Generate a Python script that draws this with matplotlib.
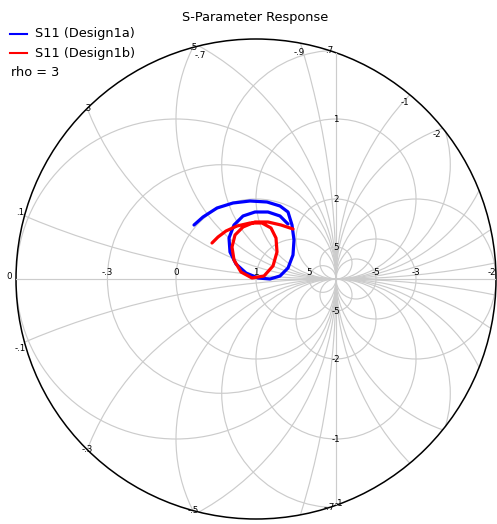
import numpy as np
import matplotlib
matplotlib.use("Agg")
import matplotlib.pyplot as plt
from matplotlib.patches import Circle

# ---------------- data ----------------
title = "S-Parameter Response"
series_names = ["S11 (Design1a)", "S11 (Design1b)"]
series_colors = ["#0000ff", "#ff0000"]
rho = 3

# grid values (normalized resistance / reactance)
r_values = [0, 1, 5, -0.3, -0.5, -0.7, -0.9, -1, -1.3, -1.5, -2, -3, -5]
r_labels = ["0", "1", "5", "-.3", "", "-.7", "-.9", "-1", "-1", "-2", "-2", "-3", "-5"]
x_values = [0.1, 0.3, 0.5, 0.7, 1, 2, 5, -0.1, -0.3, -0.5, -0.7, -1, -2, -5]
x_labels = [".1", ".3", ".5", ".7", "1", "2", "5", "-.1", "-.3", "-.5", "-.7", "-1", "-2", "-5"]

# S11 traces (real / imaginary part of reflection coefficient)
s11a_re = [-0.775, -0.6625, -0.4875, -0.2875, -0.075, 0.1375, 0.30, 0.40, 0.45, 0.475,
           0.4625, 0.40, 0.30, 0.175, 0.025, -0.125, -0.25, -0.325, -0.3375, -0.275,
           -0.1625, -0.0125, 0.15, 0.30, 0.40]
s11a_im = [0.675, 0.775, 0.8875, 0.95, 0.975, 0.9625, 0.9125, 0.8375, 0.675, 0.4875,
           0.30, 0.1375, 0.0375, 0.0, 0.0125, 0.075, 0.1875, 0.3375, 0.5125, 0.675,
           0.7875, 0.8375, 0.8375, 0.7875, 0.6875]
s11b_re = [-0.55, -0.475, -0.375, -0.2375, -0.075, 0.075, 0.1875, 0.25, 0.2625, 0.2125,
           0.10, -0.05, -0.1875, -0.275, -0.30, -0.2625, -0.1625, -0.0125, 0.15, 0.3125,
           0.4625]
s11b_im = [0.45, 0.525, 0.60, 0.6625, 0.70, 0.70, 0.6375, 0.5125, 0.3375, 0.1625,
           0.0375, 0.0125, 0.0875, 0.2375, 0.40, 0.55, 0.65, 0.7125, 0.7125, 0.675,
           0.625]

# ---------------- figure ----------------
W, H = 497, 524
cx, cy, unit = 256, 279, 80.0
fig = plt.figure(figsize=(W / 100, H / 100), dpi=100)
ax = fig.add_axes([0, 0, 1, 1])
ax.set_xlim(-cx / unit, (W - cx) / unit)
ax.set_ylim((cy - H) / unit, cy / unit)
ax.axis("off")

grid_col = "#cccccc"
grid_lw = 0.85
clip = Circle((0, 0), rho, transform=ax.transData)


def add_clipped(artist):
    artist.set_clip_path(clip)


# resistance circles
for r in r_values:
    if r == -1:
        ln, = ax.plot([1, 1], [-rho, rho], color=grid_col, lw=grid_lw)
        add_clipped(ln)
    else:
        c = Circle((r / (r + 1), 0), 1 / abs(r + 1), fill=False, ec=grid_col, lw=grid_lw)
        ax.add_patch(c)
        add_clipped(c)

# reactance circles
ln, = ax.plot([-rho, rho], [0, 0], color=grid_col, lw=grid_lw)
add_clipped(ln)
for xv in x_values:
    c = Circle((1, 1 / xv), 1 / abs(xv), fill=False, ec=grid_col, lw=grid_lw)
    ax.add_patch(c)
    add_clipped(c)

# outer rim
ax.add_patch(Circle((0, 0), rho, fill=False, ec="black", lw=1.1))

lab_kw = dict(fontsize=6.3, ha="center", va="center", color="black")

# reactance labels
for xv, lab in zip(x_values, x_labels):
    top = 2 / xv
    if abs(top) <= np.sqrt(rho ** 2 - 1):
        ax.text(1, top, lab, **lab_kw)
    else:
        k = (rho ** 2 + 1) / 2
        a = 1 / xv ** 2 + 1
        b = -2 * k / xv
        cc = k ** 2 - rho ** 2
        roots = np.roots([a, b, cc]).real
        us = k - roots / xv
        i = int(np.argmin(us))
        u, v = us[i], roots[i]
        if abs(xv) < 0.2:
            u -= 0.05
            v += 0.04 * np.sign(v) if v > 0 else -0.08
        ax.text(u, v, lab, **lab_kw)
ax.text(-rho - 0.09, 0.03, "0", **lab_kw)

# resistance labels
for r, lab in zip(r_values, r_labels):
    if not lab:
        continue
    if r == -1:
        ax.text(1.04, -np.sqrt(rho ** 2 - 1) + 0.02, lab, **lab_kw)
        continue
    left = (r - 1) / (r + 1)
    if abs(left) <= rho:
        if r < -1:
            left = min(left, rho - 0.05)
        ax.text(left, 0.08, lab, **lab_kw)
    else:
        u = (rho ** 2 * (r + 1) + r - 1) / (2 * r)
        v = np.sqrt(max(rho ** 2 - u ** 2, 0))
        ax.text(u * 0.97, v * 0.96, lab, **lab_kw)

# traces
ax.plot(s11a_re, s11a_im, color=series_colors[0], lw=2.3, solid_capstyle="round",
        solid_joinstyle="round")
ax.plot(s11b_re, s11b_im, color=series_colors[1], lw=2.3, solid_capstyle="round",
        solid_joinstyle="round")

# title + legend
fig.text(255 / W, 1 - 18 / H, title, ha="center", va="center", fontsize=9.3)
for i, (name, col) in enumerate(zip(series_names, series_colors)):
    y = 1 - (34 + 19 * i) / H
    fig.add_artist(plt.Line2D([10 / W, 27 / W], [y, y], color=col, lw=1.5))
    fig.text(35 / W, y, name, ha="left", va="center", fontsize=9.3)
fig.text(11 / W, 1 - 72 / H, "rho = %d" % rho, ha="left", va="center", fontsize=9.3)

fig.savefig("out.png", dpi=100)
